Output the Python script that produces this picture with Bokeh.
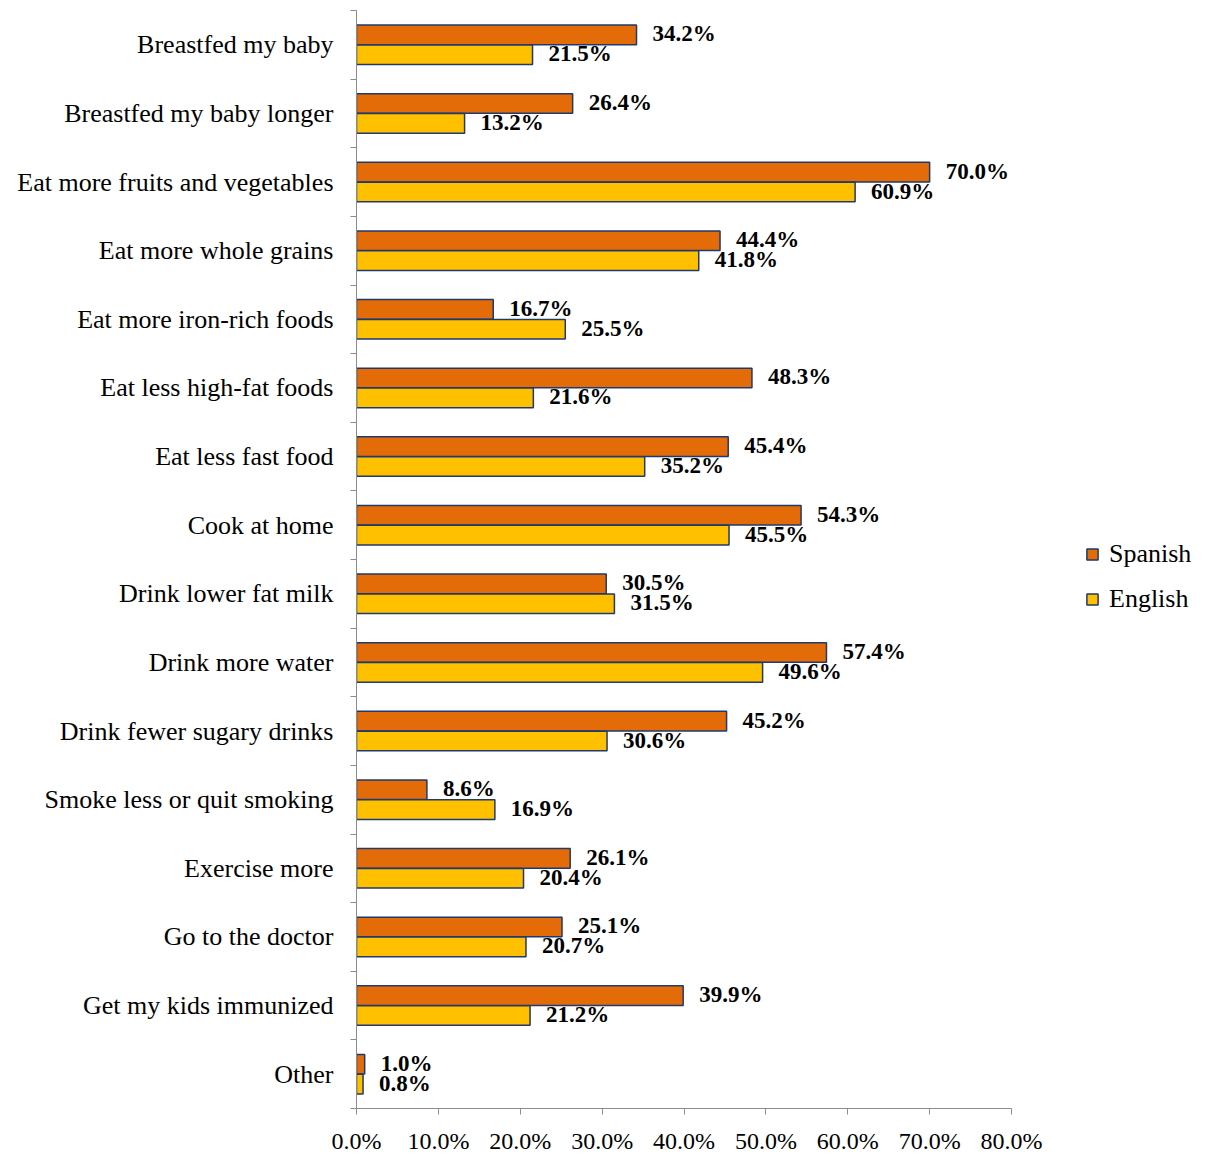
from bokeh.plotting import figure
from bokeh.models import (ColumnDataSource, Range1d, FixedTicker, CustomJSTickFormatter,
                          PrintfTickFormatter, Legend, LegendItem)
from bokeh.core.properties import value
from bokeh.embed import file_html
from bokeh.resources import INLINE

categories = ["Breastfed my baby", "Breastfed my baby longer", "Eat more fruits and vegetables",
              "Eat more whole grains", "Eat more iron-rich foods", "Eat less high-fat foods",
              "Eat less fast food", "Cook at home", "Drink lower fat milk", "Drink more water",
              "Drink fewer sugary drinks", "Smoke less or quit smoking", "Exercise more",
              "Go to the doctor", "Get my kids immunized", "Other"]
spanish = [34.2, 26.4, 70.0, 44.4, 16.7, 48.3, 45.4, 54.3, 30.5, 57.4, 45.2, 8.6, 26.1, 25.1, 39.9, 1.0]
english = [21.5, 13.2, 60.9, 41.8, 25.5, 21.6, 35.2, 45.5, 31.5, 49.6, 30.6, 16.9, 20.4, 20.7, 21.2, 0.8]
x_ticks = [0, 10, 20, 30, 40, 50, 60, 70, 80]

SERIF = "Liberation Serif"
ORANGE = "#E36C09"
GOLD = "#FFC000"
EDGE = "#1F3A6E"
AXIS = "#8C8C8C"

W, H = 1205, 1159
LEFT = 356
AXIS_PX = 655  # pixel length of the 0-80% value axis

n = len(categories)
idx = list(range(n))
src_sp = ColumnDataSource(dict(y=[i + 0.355 for i in idx], v=spanish,
                               lab=[f"{v:.1f}%" for v in spanish]))
src_en = ColumnDataSource(dict(y=[i + 0.645 for i in idx], v=english,
                               lab=[f"{v:.1f}%" for v in english]))

# the frame runs to the right edge so the legend can sit beside the bars;
# the visible value axis is limited to 0-80 %
x_end = 80 * (W - LEFT) / AXIS_PX
p = figure(width=W, height=H, output_backend="svg", toolbar_location=None,
           x_range=Range1d(0, x_end), y_range=Range1d(n, 0),
           min_border_left=LEFT, min_border_right=0, min_border_top=10, min_border_bottom=51)
p.outline_line_color = None
p.xgrid.visible = False
p.ygrid.visible = False

bh = 0.285
r_sp = p.hbar(y="y", left=0, right="v", height=bh, source=src_sp,
              fill_color=ORANGE, line_color=EDGE, line_width=1.5)
r_en = p.hbar(y="y", left=0, right="v", height=bh, source=src_en,
              fill_color=GOLD, line_color=EDGE, line_width=1.5)

for src in (src_sp, src_en):
    p.text(x="v", y="y", text="lab", source=src, x_offset=16, y_offset=-1,
           text_font=value(SERIF), text_font_style="bold", text_font_size="23px",
           text_baseline="middle", text_align="left", text_color="black")

# category axis: labels at band centres, small ticks at band boundaries
ya = p.yaxis[0]
ya.ticker = FixedTicker(ticks=[i + 0.5 for i in idx], minor_ticks=list(range(n + 1)))
ya.formatter = CustomJSTickFormatter(args=dict(cats=categories),
                                     code="return cats[Math.floor(tick)]")
ya.major_tick_out = 0
ya.major_tick_in = 0
ya.minor_tick_out = 6
ya.minor_tick_in = 0
ya.minor_tick_line_color = AXIS
ya.axis_line_color = AXIS
ya.major_label_standoff = 17
ya.major_label_text_font = SERIF
ya.major_label_text_font_size = "26px"
ya.major_label_text_color = "black"

xa = p.xaxis[0]
xa.bounds = (0, 80)
xa.ticker = FixedTicker(ticks=x_ticks, minor_ticks=[])
xa.formatter = PrintfTickFormatter(format="%.1f%%")
xa.major_tick_out = 6
xa.major_tick_in = 0
xa.major_tick_line_color = AXIS
xa.axis_line_color = AXIS
xa.major_label_standoff = 13
xa.major_label_text_font = SERIF
xa.major_label_text_font_size = "24px"
xa.major_label_text_color = "black"

legend = Legend(items=[LegendItem(label="Spanish", renderers=[r_sp]),
                       LegendItem(label="English", renderers=[r_en])],
                location=(729, 494), orientation="vertical",
                label_text_font=SERIF, label_text_font_size="26px", label_text_color="black",
                glyph_width=14, glyph_height=14, label_standoff=10, spacing=15,
                border_line_color=None, background_fill_alpha=0, padding=4, margin=0)
p.add_layout(legend, "center")

open("out.html", "w").write(file_html(p, INLINE))
